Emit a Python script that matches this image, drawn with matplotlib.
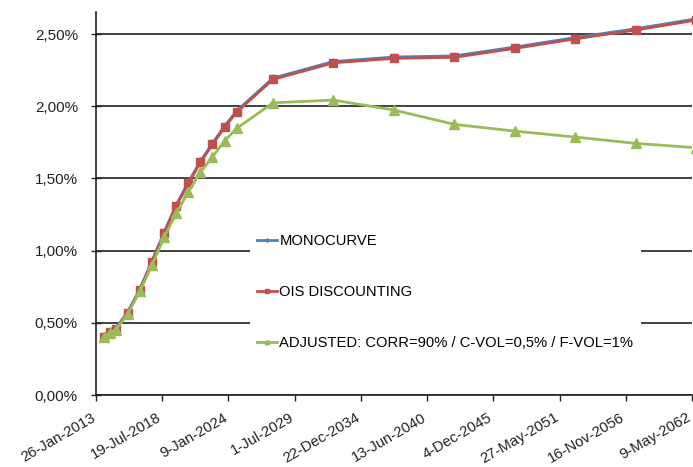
import datetime as dt
import matplotlib
matplotlib.use('Agg')
import matplotlib.pyplot as plt
import matplotlib.dates as mdates
from matplotlib.ticker import FuncFormatter, FixedLocator

plt.rcParams['font.family'] = ['Liberation Sans', 'DejaVu Sans']

# pillar dates of the forward curve (1y, 18m, 2y ... 12y, 15y, 20y ... 50y)
dates = ['2013-09-14', '2014-03-14', '2014-09-14', '2015-09-14', '2016-09-14',
         '2017-09-14', '2018-09-14', '2019-09-14', '2020-09-14', '2021-09-14',
         '2022-09-14', '2023-09-14', '2024-09-14', '2027-09-14', '2032-09-14',
         '2037-09-14', '2042-09-14', '2047-09-14', '2052-09-14', '2057-09-14',
         '2062-09-14']

monocurve = [0.410, 0.445, 0.462, 0.577, 0.735, 0.930, 1.128, 1.317, 1.474,
             1.619, 1.744, 1.862, 1.968, 2.195, 2.310, 2.341, 2.349, 2.410,
             2.476, 2.537, 2.606]
ois = [0.404, 0.438, 0.455, 0.570, 0.727, 0.923, 1.120, 1.309, 1.466,
       1.611, 1.736, 1.854, 1.960, 2.186, 2.301, 2.332, 2.339, 2.401,
       2.467, 2.528, 2.597]
adjusted = [0.400, 0.432, 0.452, 0.562, 0.720, 0.900, 1.092, 1.258, 1.408,
            1.542, 1.650, 1.761, 1.847, 2.024, 2.043, 1.974, 1.875, 1.828,
            1.787, 1.743, 1.713]

x = [dt.datetime.strptime(d, '%Y-%m-%d') for d in dates]

fig = plt.figure(figsize=(6.93, 4.67), dpi=100)
ax = fig.add_axes([0.1385, 0.154, 0.86, 0.82])

ax.plot(x, monocurve, color='#4F81BD', lw=2.0, marker='D', ms=3.5,
        label='MONOCURVE', zorder=3)
ax.plot(x, ois, color='#C0504D', lw=2.0, marker='s', ms=6,
        label='OIS DISCOUNTING', zorder=4)
ax.plot(x, adjusted, color='#9BBB59', lw=2.0, marker='^', ms=6.5,
        label='ADJUSTED: CORR=90% / C-VOL=0,5% / F-VOL=1%', zorder=5)

# date axis: ticks every 2000 days from the first date
start = dt.datetime(2013, 1, 26)
ticks = [start + dt.timedelta(days=2000 * i) for i in range(10)]
ax.set_xlim(ticks[0], ticks[-1])
ax.xaxis.set_major_locator(FixedLocator(mdates.date2num(ticks)))
ax.xaxis.set_major_formatter(FuncFormatter(
    lambda v, p: '{}-{}'.format(mdates.num2date(v).day,
                                mdates.num2date(v).strftime('%b-%Y'))))
for lab in ax.get_xticklabels():
    lab.set_rotation(30)
    lab.set_ha('right')
    lab.set_va('baseline')
    lab.set_rotation_mode('anchor')

ax.set_ylim(0, 2.652)
ax.set_yticks([0, 0.5, 1.0, 1.5, 2.0, 2.5])
ax.yaxis.set_major_formatter(FuncFormatter(
    lambda v, p: ('%.2f%%' % v).replace('.', ',')))

ax.grid(axis='y', color='#333333', lw=1.3, zorder=0)
ax.set_axisbelow(True)
for s in ['top', 'right']:
    ax.spines[s].set_visible(False)
ax.spines['left'].set_color('#222222')
ax.spines['bottom'].set_color('#222222')
ax.spines['left'].set_linewidth(1.2)
ax.spines['bottom'].set_linewidth(1.2)
ax.tick_params(axis='y', direction='inout', length=7.2, width=1.0,
               labelsize=11, colors='#222222', pad=9.4)
ax.tick_params(axis='x', direction='out', length=4, width=1.0,
               labelsize=10.7, colors='#222222', pad=14)

leg = ax.legend(loc='center left', bbox_to_anchor=(0.246, 0.269),
                frameon=True, facecolor='white', edgecolor='none',
                framealpha=1, fancybox=False, fontsize=10.6,
                handlelength=1.35, handletextpad=0.15, labelspacing=2.5,
                borderpad=0.5, markerscale=0.5)
leg.set_zorder(6)

fig.savefig('out.png', dpi=100)
